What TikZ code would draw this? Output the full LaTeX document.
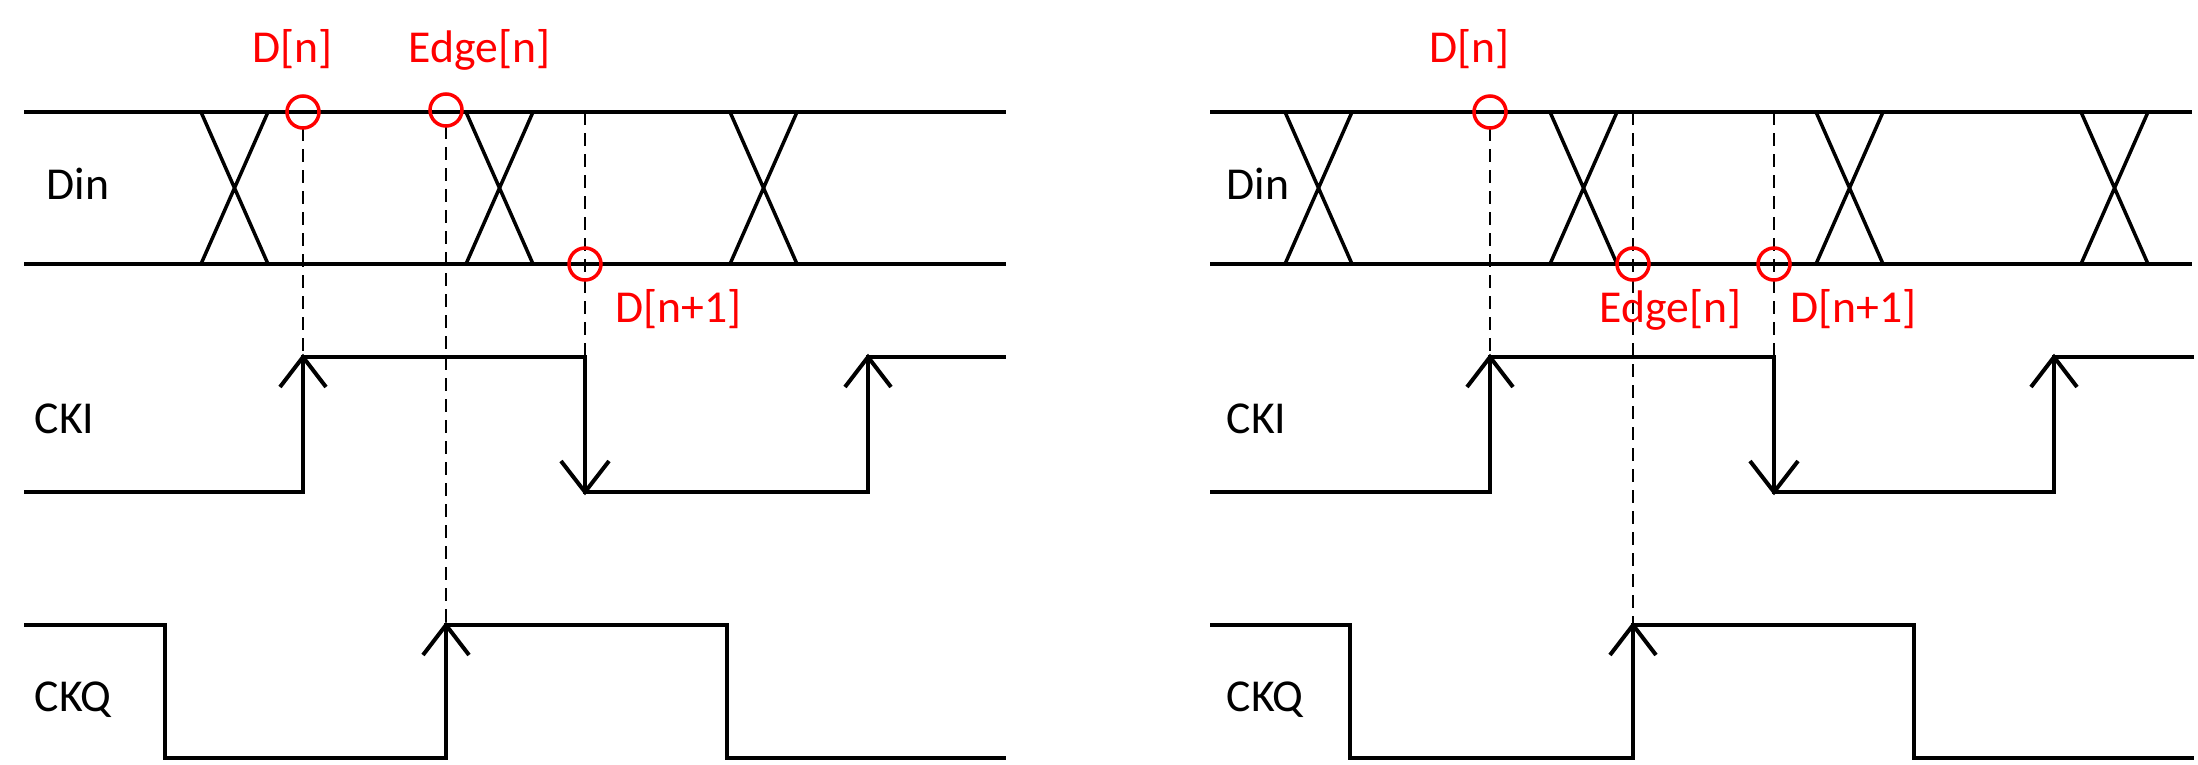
\documentclass[tikz,border=0pt]{standalone}
\usepackage{fontspec}
\setmainfont{Carlito}
\usepackage{xcolor}

\tikzset{
  rail/.style={line width=0.4mm},
  xleg/.style={line width=0.35mm},
  wave/.style={line width=0.4mm, line join=miter},
  guide/.style={line width=0.2mm, dash pattern=on 1.3mm off 0.8mm},
  ring/.style={red, line width=0.35mm},
  sig/.style={anchor=base west, inner sep=0pt, font=\fontsize{13}{15}\selectfont},
  tag/.style={sig, text=red},
}

\begin{document}
\begin{tikzpicture}[x=0.1mm, y=-0.1mm]
\useasboundingbox (0,0) rectangle (2198,764);
%\draw[step=100,gray,very thin] (0,0) grid (2198,764); %background grid

% left panel
\draw[rail] (24,112) -- (1006,112);
\draw[rail] (24,264) -- (1006,264);
\foreach \a in {201,466,730}
  \draw[xleg] (\a,112) -- (\a+67,264) (\a+67,112) -- (\a,264);
\draw[guide] (303,128) -- (303,357);
\draw[guide] (446,126) -- (446,625);
\draw[guide] (585,112) -- (585,357);
\draw[wave] (24,492) -- (303,492) -- (303,357) -- (585,357) -- (585,492) -- (868,492) -- (868,357) -- (1006,357);
\draw[wave] (24,625) -- (165,625) -- (165,758) -- (446,758) -- (446,625) -- (727,625) -- (727,758) -- (1006,758);
\foreach \x in {303,868}
  \draw[wave] (\x-23,387) -- (\x,357) -- (\x+23,387);
\draw[wave] (585-24,461) -- (585,492) -- (585+24,461);
\draw[wave] (446-23,655) -- (446,625) -- (446+23,655);
\draw[ring] (303,112) circle (16);
\draw[ring] (446,110) circle (16);
\draw[ring] (585,264) circle (16);
\node[sig] (dinL) at (46,199) {Din};
\node[sig] (ckiL) at (34,433) {CKI};
\node[sig] (ckqL) at (34,711) {CKQ};
\node[tag] (dnL) at (252,62) {D[n]};
\node[tag] (edgeL) at (408,62) {Edge[n]};
\node[tag] (dnextL) at (615,322) {D[n+1]};

% right panel
\draw[rail] (1210,112) -- (2192,112);
\draw[rail] (1210,264) -- (2192,264);
\foreach \a in {1285,1550,1816,2081}
  \draw[xleg] (\a,112) -- (\a+67,264) (\a+67,112) -- (\a,264);
\draw[guide] (1490,128) -- (1490,357);
\draw[guide] (1633,112) -- (1633,625);
\draw[guide] (1774,112) -- (1774,357);
\draw[wave] (1210,492) -- (1490,492) -- (1490,357) -- (1774,357) -- (1774,492) -- (2054,492) -- (2054,357) -- (2194,357);
\draw[wave] (1210,625) -- (1350,625) -- (1350,758) -- (1633,758) -- (1633,625) -- (1914,625) -- (1914,758) -- (2194,758);
\foreach \x in {1490,2054}
  \draw[wave] (\x-23,387) -- (\x,357) -- (\x+23,387);
\draw[wave] (1774-24,461) -- (1774,492) -- (1774+24,461);
\draw[wave] (1633-23,655) -- (1633,625) -- (1633+23,655);
\draw[ring] (1490,112) circle (16);
\draw[ring] (1633,264) circle (16);
\draw[ring] (1774,264) circle (16);
\node[sig] (dinR) at (1226,199) {Din};
\node[sig] (ckiR) at (1226,433) {CKI};
\node[sig] (ckqR) at (1226,711) {CKQ};
\node[tag] (dnR) at (1429,62) {D[n]};
\node[tag] (edgeR) at (1599,322) {Edge[n]};
\node[tag] (dnextR) at (1790,322) {D[n+1]};
\end{tikzpicture}
\end{document}
